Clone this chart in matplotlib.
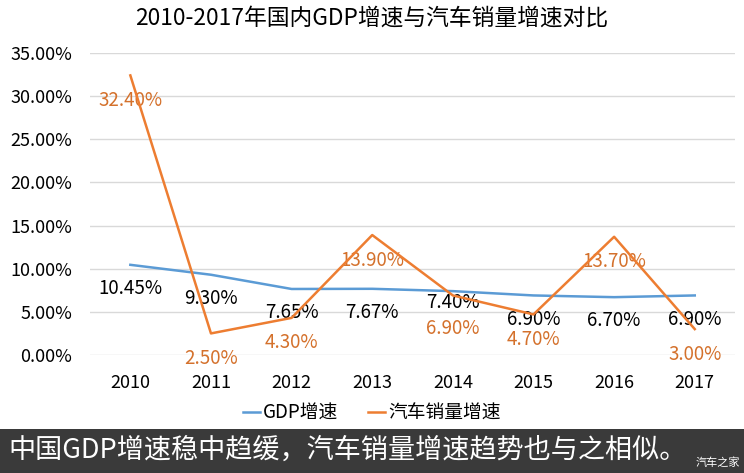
import matplotlib.pyplot as plt
from matplotlib.patches import Rectangle
from matplotlib.ticker import FuncFormatter

plt.rcParams['font.family'] = ['Noto Sans CJK SC', 'DejaVu Sans']

# 데이터
years = ['2010', '2011', '2012', '2013', '2014', '2015', '2016', '2017']
gdp = [10.45, 9.30, 7.65, 7.67, 7.40, 6.90, 6.70, 6.90]
car = [32.40, 2.50, 4.30, 13.90, 6.90, 4.70, 13.70, 3.00]
yticks = [0, 5, 10, 15, 20, 25, 30, 35]

blue = '#5B9BD5'
orange = '#ED7D31'
label_orange = '#D4712C'

fig = plt.figure(figsize=(7.44, 4.73), dpi=100)
ax = fig.add_axes([0.121, 0.2495, 0.867, 0.6385])

x = range(len(years))
ax.plot(x, gdp, color=blue, linewidth=1.8, label='GDP增速', zorder=3)
ax.plot(x, car, color=orange, linewidth=1.8, label='汽车销量增速', zorder=3)

# 데이터 라벨 (아래쪽), 2014년만 위치 조정
for i in x:
    dy_g = -8 if i == 4 else -17
    dy_c = -24 if i == 4 else -18
    ax.annotate('%.2f%%' % gdp[i], (i, gdp[i]), xytext=(0, dy_g), textcoords='offset points',
                ha='center', va='center', fontsize=13.5, color='black', zorder=2)
    ax.annotate('%.2f%%' % car[i], (i, car[i]), xytext=(0, dy_c), textcoords='offset points',
                ha='center', va='center', fontsize=13.5, color=label_orange, zorder=2)

ax.set_xlim(-0.5, len(years) - 0.5)
ax.set_ylim(0, 35)
ax.set_xticks(list(x))
ax.set_xticklabels(years)
ax.set_yticks(yticks)
ax.yaxis.set_major_formatter(FuncFormatter(lambda v, p: '%.2f%%' % v))
ax.tick_params(axis='both', length=0, labelsize=13)
ax.tick_params(axis='y', pad=13)
ax.tick_params(axis='x', pad=14)
ax.grid(axis='y', color='#D9D9D9', linewidth=1)
ax.set_axisbelow(True)
for s in ax.spines.values():
    s.set_visible(False)

fig.text(0.5, 0.962, '2010-2017年国内GDP增速与汽车销量增速对比', ha='center', va='center', fontsize=16.4)

fig.legend(loc='center', bbox_to_anchor=(0.5, 0.127), ncol=2, frameon=False, fontsize=13.5,
           handlelength=0.9, handletextpad=0.15, columnspacing=1.6)

# 하단 배너
fig.patches.append(Rectangle((0, 0), 1, 44 / 473, transform=fig.transFigure, facecolor='#3A3A3A',
                             edgecolor='none', zorder=0))
fig.text(0.011, 0.048, '中国GDP增速稳中趋缓，汽车销量增速趋势也与之相似。', ha='left', va='center',
         fontsize=19.5, color='white')
fig.text(0.995, 0.022, '汽车之家', ha='right', va='center', fontsize=8, color='white')

fig.savefig('out.png', dpi=100)
